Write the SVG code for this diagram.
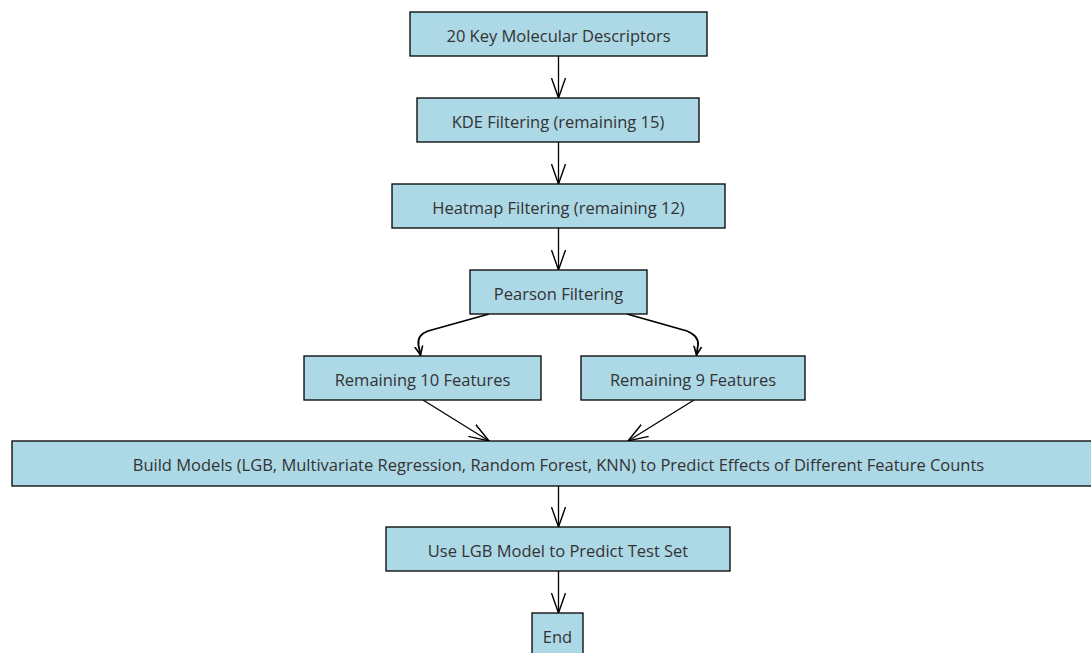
<svg xmlns="http://www.w3.org/2000/svg" width="1091" height="653" viewBox="0 0 1091 653">
<style>
.box{fill:#add8e6;stroke:#000;stroke-width:1.3}
.lbl{font-family:"Open Sans",sans-serif;font-size:16.5px;fill:#333;text-anchor:middle;dominant-baseline:central}
.edge{fill:none;stroke:#000;stroke-width:1.3}
.curve{fill:none;stroke:#000;stroke-width:1.8}
</style>
<defs>
<marker id="arr" viewBox="0 0 21 16" refX="20" refY="8" markerWidth="21" markerHeight="16" markerUnits="userSpaceOnUse" orient="auto">
<path d="M0,1 L20,8 L0,15" fill="none" stroke="#000" stroke-width="1.4"/>
</marker>
<marker id="arrs" viewBox="0 0 10 10" refX="9" refY="5" markerWidth="10" markerHeight="10" markerUnits="userSpaceOnUse" orient="auto">
<path d="M0,1 L9,5 L0,9" fill="none" stroke="#000" stroke-width="1.6"/>
</marker>
</defs>
<rect width="1091" height="653" fill="#fff"/>
<g id="connectors">
<path class="edge" marker-end="url(#arr)" d="M558.5,56 L558.5,98"/>
<path class="edge" marker-end="url(#arr)" d="M558.5,142 L558.5,184"/>
<path class="edge" marker-end="url(#arr)" d="M558.5,228 L558.5,270"/>
<path class="curve" marker-end="url(#arrs)" d="M489,314 L428,331 Q417,335 418.5,345 L420.5,355"/>
<path class="curve" marker-end="url(#arrs)" d="M627,314 L687,331 Q699,336 698,345 L696.5,355"/>
<path class="edge" marker-end="url(#arr)" d="M423,400 L489,441"/>
<path class="edge" marker-end="url(#arr)" d="M694,400 L628,441"/>
<path class="edge" marker-end="url(#arr)" d="M558.5,486 L558.5,527"/>
<path class="edge" marker-end="url(#arr)" d="M558.5,571 L558.5,613"/>
</g>
<g id="n1"><rect class="box" x="410" y="12" width="297" height="44"/><text class="lbl" x="558.5" y="35">20 Key Molecular Descriptors</text></g>
<g id="n2"><rect class="box" x="417" y="98" width="282" height="44"/><text class="lbl" x="558" y="121">KDE Filtering (remaining 15)</text></g>
<g id="n3"><rect class="box" x="392" y="184" width="333" height="44"/><text class="lbl" x="558.5" y="207">Heatmap Filtering (remaining 12)</text></g>
<g id="n4"><rect class="box" x="470" y="270" width="177" height="44"/><text class="lbl" x="558.5" y="293">Pearson Filtering</text></g>
<g id="n5"><rect class="box" x="304" y="356" width="237" height="44"/><text class="lbl" x="422.5" y="379">Remaining 10 Features</text></g>
<g id="n6"><rect class="box" x="581" y="356" width="224" height="44"/><text class="lbl" x="693" y="379">Remaining 9 Features</text></g>
<g id="n7"><rect class="box" x="12" y="441" width="1100" height="45"/><text class="lbl" x="558.5" y="464">Build Models (LGB, Multivariate Regression, Random Forest, KNN) to Predict Effects of Different Feature Counts</text></g>
<g id="n8"><rect class="box" x="386" y="527" width="344" height="44"/><text class="lbl" x="558" y="550">Use LGB Model to Predict Test Set</text></g>
<g id="n9"><rect class="box" x="532" y="613" width="51" height="50"/><text class="lbl" x="557.5" y="636">End</text></g>
</svg>
